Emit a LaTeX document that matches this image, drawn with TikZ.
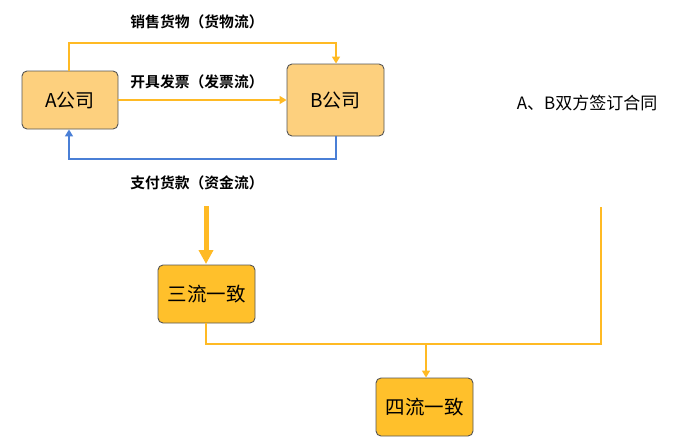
\documentclass[tikz,border=0pt]{standalone}
\usepackage{fontspec}
\setmainfont{Noto Sans CJK SC}
\newfontfamily\cjkb{Noto Sans CJK SC Bold}
\usetikzlibrary{arrows.meta}
\definecolor{lightbox}{HTML}{FDD07E}
\definecolor{goldbox}{HTML}{FFC02B}
\definecolor{flowline}{HTML}{FFBA24}
\definecolor{blueline}{HTML}{4A7FD6}
\definecolor{boxborder}{HTML}{555555}
\tikzset{
  company/.style={draw=boxborder, line width=0.9pt, rounded corners=5pt, fill=lightbox, font=\fontsize{19}{22}\selectfont, inner sep=0pt},
  result/.style={draw=boxborder, line width=0.9pt, rounded corners=5pt, fill=goldbox, font=\fontsize{19.5}{22}\selectfont, inner sep=0pt, minimum width=97pt, minimum height=58pt},
  flow/.style={draw=flowline, line width=1.5pt, -{Triangle[length=7pt,width=8pt]}},
  flowplain/.style={draw=flowline, line width=1.5pt},
  money/.style={draw=blueline, line width=1.5pt, -{Triangle[length=7pt,width=8pt]}},
  lbl/.style={font=\cjkb\fontsize{14.8}{17}\selectfont, inner sep=0pt},
}
\begin{document}
\begin{tikzpicture}[x=1pt,y=-1pt]
\useasboundingbox (0,0) rectangle (700,437);
\node[company, minimum width=96pt, minimum height=58pt] (A) at (70,100) {A公司};
\node[company, minimum width=97pt, minimum height=72pt] (B) at (335.5,100) {B公司};
\node[result] (S) at (206.5,294) {三流一致};
\node[result] (F) at (424.5,407) {四流一致};
\node[font=\fontsize{17}{20}\selectfont, inner sep=0pt] (C) at (587,103) {A、B双方签订合同};
\node[lbl] (L1) at (197,22) {销售货物（货物流）};
\node[lbl] (L2) at (197,82) {开具发票（发票流）};
\node[lbl] (L3) at (197,183) {支付货款（资金流）};
\coordinate (T) at (206,206);
\coordinate (R) at (601,207);
\draw[flow] (A.north -| 69,0) -- (69,43) -- (336,43) -- (B.north -| 336,0);
\draw[flow] (A.east) -- (B.west |- A.east);
\draw[money] (B.south -| 336,0) -- (336,159) -- (69,159) -- (A.south -| 69,0);
\draw[draw=flowline, line width=5pt, -{Triangle[length=14pt,width=14pt]}, shorten >=0.5pt] (T) -- (S.north -| T);
\draw[flowplain] (S.south -| 206,0) -- (206,344) -- (601,344) -- (R);
\draw[flow] (426,344) -- (F.north -| 426,0);
\end{tikzpicture}
\end{document}
